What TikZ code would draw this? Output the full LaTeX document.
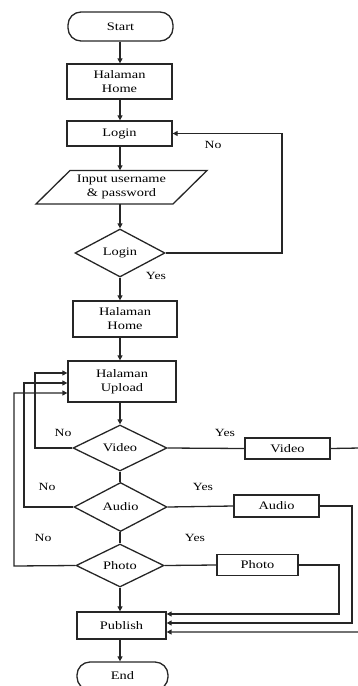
\documentclass[tikz,border=0pt]{standalone}
\usepackage{fontspec}
\setmainfont{Liberation Serif}[FakeStretch=1.25]
\usetikzlibrary{shapes.geometric,arrows.meta,calc}
\begin{document}
\begin{tikzpicture}[x=1pt,y=-1pt,
  every node/.style={font=\fontsize{11.5}{14}\selectfont, align=center, inner sep=0pt},
  line/.style={draw=black!85, line width=1.3pt},
  arr/.style={line, -{Triangle[length=5pt,width=5pt]}},
  proc/.style={draw=black!85, line width=1.3pt, rectangle},
  term/.style={draw=black!85, line width=1.3pt, rectangle, rounded corners=13pt},
  dec/.style={draw=black!85, line width=1.3pt, diamond, aspect=2},
  lab/.style={font=\fontsize{11}{13}\selectfont}]
\useasboundingbox (0,0) rectangle (357,686);
% nodes
\node[term, minimum width=105pt, minimum height=29pt] (start) at (120.5,26.5) {Start};
\node[proc, minimum width=105pt, minimum height=35pt] (home1) at (119.5,81.5) {Halaman\\Home};
\node[proc, minimum width=105pt, minimum height=25pt] (login) at (119.5,133.5) {Login};
\draw[line] (36,204) -- (70,170.5) -- (207,170.5) -- (173,204) -- cycle;
\node[minimum width=100pt, minimum height=33.5pt] (input) at (121.5,187.25) {Input username\\\& password};
\node[dec, minimum width=90pt, minimum height=48pt] (logind) at (120,253) {Login};
\node[proc, minimum width=104pt, minimum height=36pt] (home2) at (125,319) {Halaman\\Home};
\node[proc, minimum width=108pt, minimum height=41pt] (upload) at (122,381.5) {Halaman\\Upload};
\node[dec, minimum width=94pt, minimum height=46pt] (videod) at (120,448) {Video};
\node[proc, minimum width=85pt, minimum height=21pt] (videob) at (287.5,448.5) {Video};
\node[dec, minimum width=93pt, minimum height=49pt] (audiod) at (120.5,507) {Audio};
\node[proc, minimum width=85pt, minimum height=22pt] (audiob) at (276.5,506) {Audio};
\node[dec, minimum width=88pt, minimum height=43pt] (photod) at (120,565.5) {Photo};
\node[proc, minimum width=81pt, minimum height=21pt] (photob) at (257.5,565) {Photo};
\node[proc, minimum width=89pt, minimum height=27pt] (publish) at (121.5,625.5) {Publish};
\node[term, minimum width=91pt, minimum height=28pt] (end) at (122.5,676) {End};
% right-side helper coordinates
\coordinate (vr) at (360,448);
\coordinate (ar) at (352,506);
\coordinate (pr) at (339,565);
\coordinate (lr) at (282,253);
\coordinate (vl) at (35,448);
\coordinate (al) at (24,507);
\coordinate (pl) at (14,566);
% main flow
\draw[arr] (start.south -| 120,0) -- (home1.north -| 120,0);
\draw[arr] (home1.south -| 120,0) -- (login.north -| 120,0);
\draw[arr] (login.south -| 120,0) -- (input.north -| 120,0);
\draw[arr] (input.south -| 120,0) -- (logind.north);
\draw[arr] (logind.south) -- (home2.north -| 120,0);
\draw[arr] (home2.south -| 120,0) -- (upload.north -| 120,0);
\draw[arr] (upload.south -| 120,0) -- (videod.north);
\draw[line] (videod.south) -- (audiod.north -| videod.south);
\draw[line] (audiod.south -| 120,0) -- (photod.north);
\draw[arr] (photod.south) -- (publish.north -| 120,0);
\draw[arr] (publish.south -| 120,0) -- (end.north -| 120,0);
% login loop
\draw[arr] (logind.east) -- (lr) |- (login.east);
\node[lab] (lno) at (213,145) {No};
\node[lab] (lyes) at (156,276) {Yes};
% No loops
\draw[arr] (videod.west) -- (vl) |- ($(upload.west)+(0,-8.5)$);
\draw[arr] (audiod.west) -- (al) |- ($(upload.west)+(0,1.5)$);
\draw[arr] (photod.west) -- (pl) |- ($(upload.west)+(0,11.5)$);
% Yes branches
\draw[line] (videod.east) -- (videob.west);
\draw[line] (audiod.east) -- (audiob.west);
\draw[line] (photod.east) -- (photob.west);
\draw[arr] (videob.east) -- (vr) |- ($(publish.east)+(0,6.5)$);
\draw[arr] (audiob.east) -- (ar) |- ($(publish.east)+(0,-2.5)$);
\draw[arr] (photob.east) -- (pr) |- ($(publish.east)+(0,-11.5)$);
% labels
\node[lab] (vno) at (63,433) {No};
\node[lab] (vyes) at (225,433) {Yes};
\node[lab] (ano) at (47,487) {No};
\node[lab] (ayes) at (203,487) {Yes};
\node[lab] (pno) at (43,538) {No};
\node[lab] (pyes) at (195,538) {Yes};
\end{tikzpicture}
\end{document}
